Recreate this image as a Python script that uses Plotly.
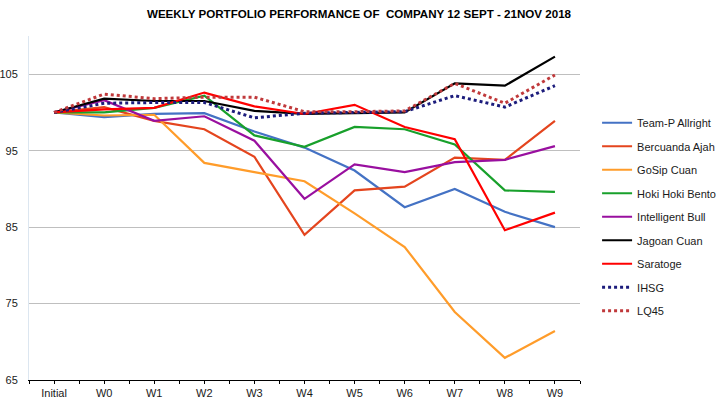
import plotly.graph_objects as go

categories = ["Initial", "W0", "W1", "W2", "W3", "W4", "W5", "W6", "W7", "W8", "W9"]

team_p = [100, 99.4, 99.8, 99.9, 97.5, 95.4, 92.4, 87.6, 90.0, 87.0, 85.0]
bercuanda = [100, 100.7, 98.9, 97.8, 94.2, 84.0, 89.8, 90.3, 94.1, 93.8, 98.9]
gosip = [100, 99.6, 99.7, 93.4, 92.2, 91.0, 86.8, 82.4, 73.9, 67.9, 71.4]
hoki = [100, 100.0, 100.6, 102.2, 97.0, 95.5, 98.1, 97.8, 95.8, 89.8, 89.6]
intelligent = [100, 101.6, 98.9, 99.5, 96.3, 88.7, 93.2, 92.2, 93.5, 93.8, 95.6]
jagoan = [100, 101.8, 101.5, 101.5, 100.2, 99.8, 99.9, 100.0, 103.8, 103.5, 107.3]
saratoge = [100, 100.4, 100.6, 102.6, 100.8, 99.8, 101.0, 98.1, 96.5, 84.6, 86.9]
ihsg = [100, 101.2, 101.3, 101.3, 99.3, 99.9, 100.0, 100.1, 102.2, 100.7, 103.5]
lq45 = [100, 102.4, 101.8, 102.0, 102.0, 100.1, 100.1, 100.2, 103.8, 101.2, 104.9]

series = [
    ("Team-P Allright", team_p, "#4472C4", "solid"),
    ("Bercuanda Ajah", bercuanda, "#E4451E", "solid"),
    ("GoSip Cuan", gosip, "#FF9C2A", "solid"),
    ("Hoki Hoki Bento", hoki, "#18A02B", "solid"),
    ("Intelligent Bull", intelligent, "#990F9F", "solid"),
    ("Jagoan Cuan", jagoan, "#000000", "solid"),
    ("Saratoge", saratoge, "#FF0000", "solid"),
    ("IHSG", ihsg, "#1C1C7C", "3px,3px"),
    ("LQ45", lq45, "#C0393B", "3px,3px"),
]

y_ticks = [65, 75, 85, 95, 105]

xpos = list(range(len(categories)))
minor_pos = [i - 0.5 for i in range(len(categories) + 1)]

fig = go.Figure()
for i, (name, vals, color, dash) in enumerate(series):
    w = 3 if dash != "solid" else 2.2
    fig.add_trace(go.Scatter(
        x=xpos, y=vals, name=name, mode="lines",
        line=dict(color=color, width=w, dash=dash),
        legendgroup=f"g{i}",
    ))

fig.update_layout(
    width=718, height=408,
    margin=dict(l=29, r=138, t=36, b=28, autoexpand=False),
    paper_bgcolor="white", plot_bgcolor="white",
    font=dict(family="Liberation Sans", size=11, color="#1A1A1A"),
    title=dict(
        text="<b>WEEKLY PORTFOLIO PERFORMANCE OF  COMPANY 12 SEPT - 21NOV 2018</b>",
        x=0.5, xanchor="center", xref="container", y=0.965, yanchor="middle",
        font=dict(family="Liberation Sans", size=11.6, color="#000000"),
    ),
    showlegend=True,
    legend=dict(
        x=1.031, xanchor="left", y=0.79, yanchor="top",
        font=dict(family="Liberation Sans", size=11, color="#1A1A1A"),
        tracegroupgap=4.5, bgcolor="rgba(0,0,0,0)",
    ),
    xaxis=dict(
        range=[-0.5, len(categories) - 0.5], automargin=False,
        tickmode="array", tickvals=xpos, ticktext=categories,
        ticks="outside", ticklen=3, tickcolor="black", tickwidth=1,
        minor=dict(tickmode="array", tickvals=minor_pos, ticks="outside", ticklen=3, tickcolor="black"),
        showline=True, linecolor="black", linewidth=1.2,
        showgrid=False, zeroline=False,
        tickfont=dict(size=11, color="#1A1A1A"),
    ),
    xaxis2=dict(
        range=[-0.5, len(categories) - 0.5], overlaying="x", anchor="y", side="bottom",
        automargin=False,
        tickmode="array", tickvals=xpos + minor_pos,
        ticks="inside", ticklen=3, tickcolor="black", showticklabels=False,
        showline=False, showgrid=False, zeroline=False,
    ),
    yaxis=dict(
        range=[65, 110], tickmode="array", tickvals=y_ticks, automargin=False,
        showgrid=True, gridcolor="#BFBFBF", gridwidth=1,
        showline=True, linecolor="#DCE6F0", linewidth=1,
        zeroline=False, ticks="", ticklabelstandoff=8,
        tickfont=dict(size=11, color="#1A1A1A"),
    ),
)

fig.write_html("out.html", config={"displayModeBar": False},
               post_script="document.body.style.margin='0';")
